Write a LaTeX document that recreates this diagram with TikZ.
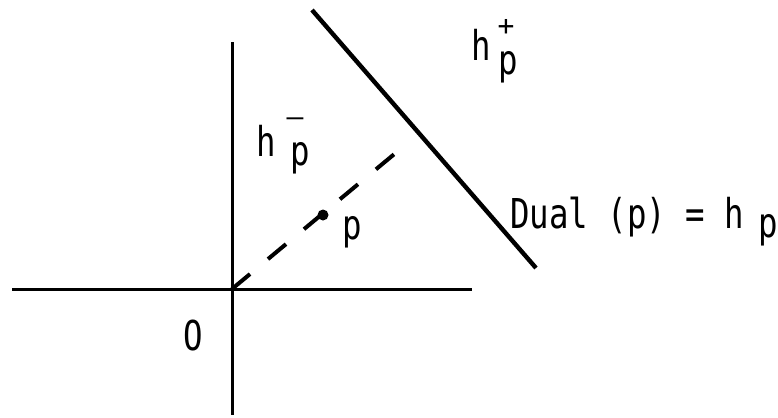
\documentclass[tikz,border=0pt]{standalone}
\usepackage{fontspec}
\usepackage{graphicx}
\newfontfamily\plotfont{DejaVu Sans Mono}
\newcommand{\tall}[1]{\scalebox{1}[1.27]{#1}}
\tikzset{
  axis/.style={line width=1.5pt},
  dualline/.style={line width=2.2pt},
  ray/.style={line width=2pt, dash pattern=on 11.7pt off 11.7pt},
  lbl/.style={font=\plotfont\fontsize{16.2}{19}\selectfont, inner sep=0pt},
  sign/.style={font=\plotfont\fontsize{14}{16}\selectfont, inner sep=0pt},
}
\begin{document}
\begin{tikzpicture}[x=0.5pt, y=-0.5pt]
  \useasboundingbox (0,0) rectangle (778,418);

  % Axes
  \coordinate (O) at (232,289);
  \coordinate (xl) at (12,289);
  \coordinate (xr) at (472,289);
  \coordinate (yt) at (232,42);
  \coordinate (yb) at (232,415);
  \draw[axis] (xl) -- (xr);
  \draw[axis] (yt) -- (yb);

  % Dual line h_p
  \coordinate (dt) at (312,10);
  \coordinate (db) at (536,268);
  \draw[dualline] (dt) -- (db);

  % Ray from O through p
  \coordinate (P) at (323,215);
  \coordinate (re) at (398,151);
  \draw[ray] (O) -- (re);
  \fill (P) circle (5.5);

  % Labels
  \node[lbl] (olbl) at (193,336) {\tall{O}};
  \node[lbl] (plbl) at (352,232) {\tall{p}};

  \node[lbl] (hm) at (266,141) {\tall{h}};
  \node[lbl] (hmsub) at (300,158) {\tall{p}};
  \node[sign] (hmsup) at (295,122) {–};

  \node[lbl] (hp) at (481,45) {\tall{h}};
  \node[lbl] (hpsub) at (508,67) {\tall{p}};
  \node[sign] (hpsup) at (506,27) {+};

  \node[lbl, anchor=base west] (dual) at (510,228) {\tall{Dual (p) = h}};
  \node[lbl, anchor=base west] (dualsub) at (758,237) {\tall{p}};
\end{tikzpicture}
\end{document}
